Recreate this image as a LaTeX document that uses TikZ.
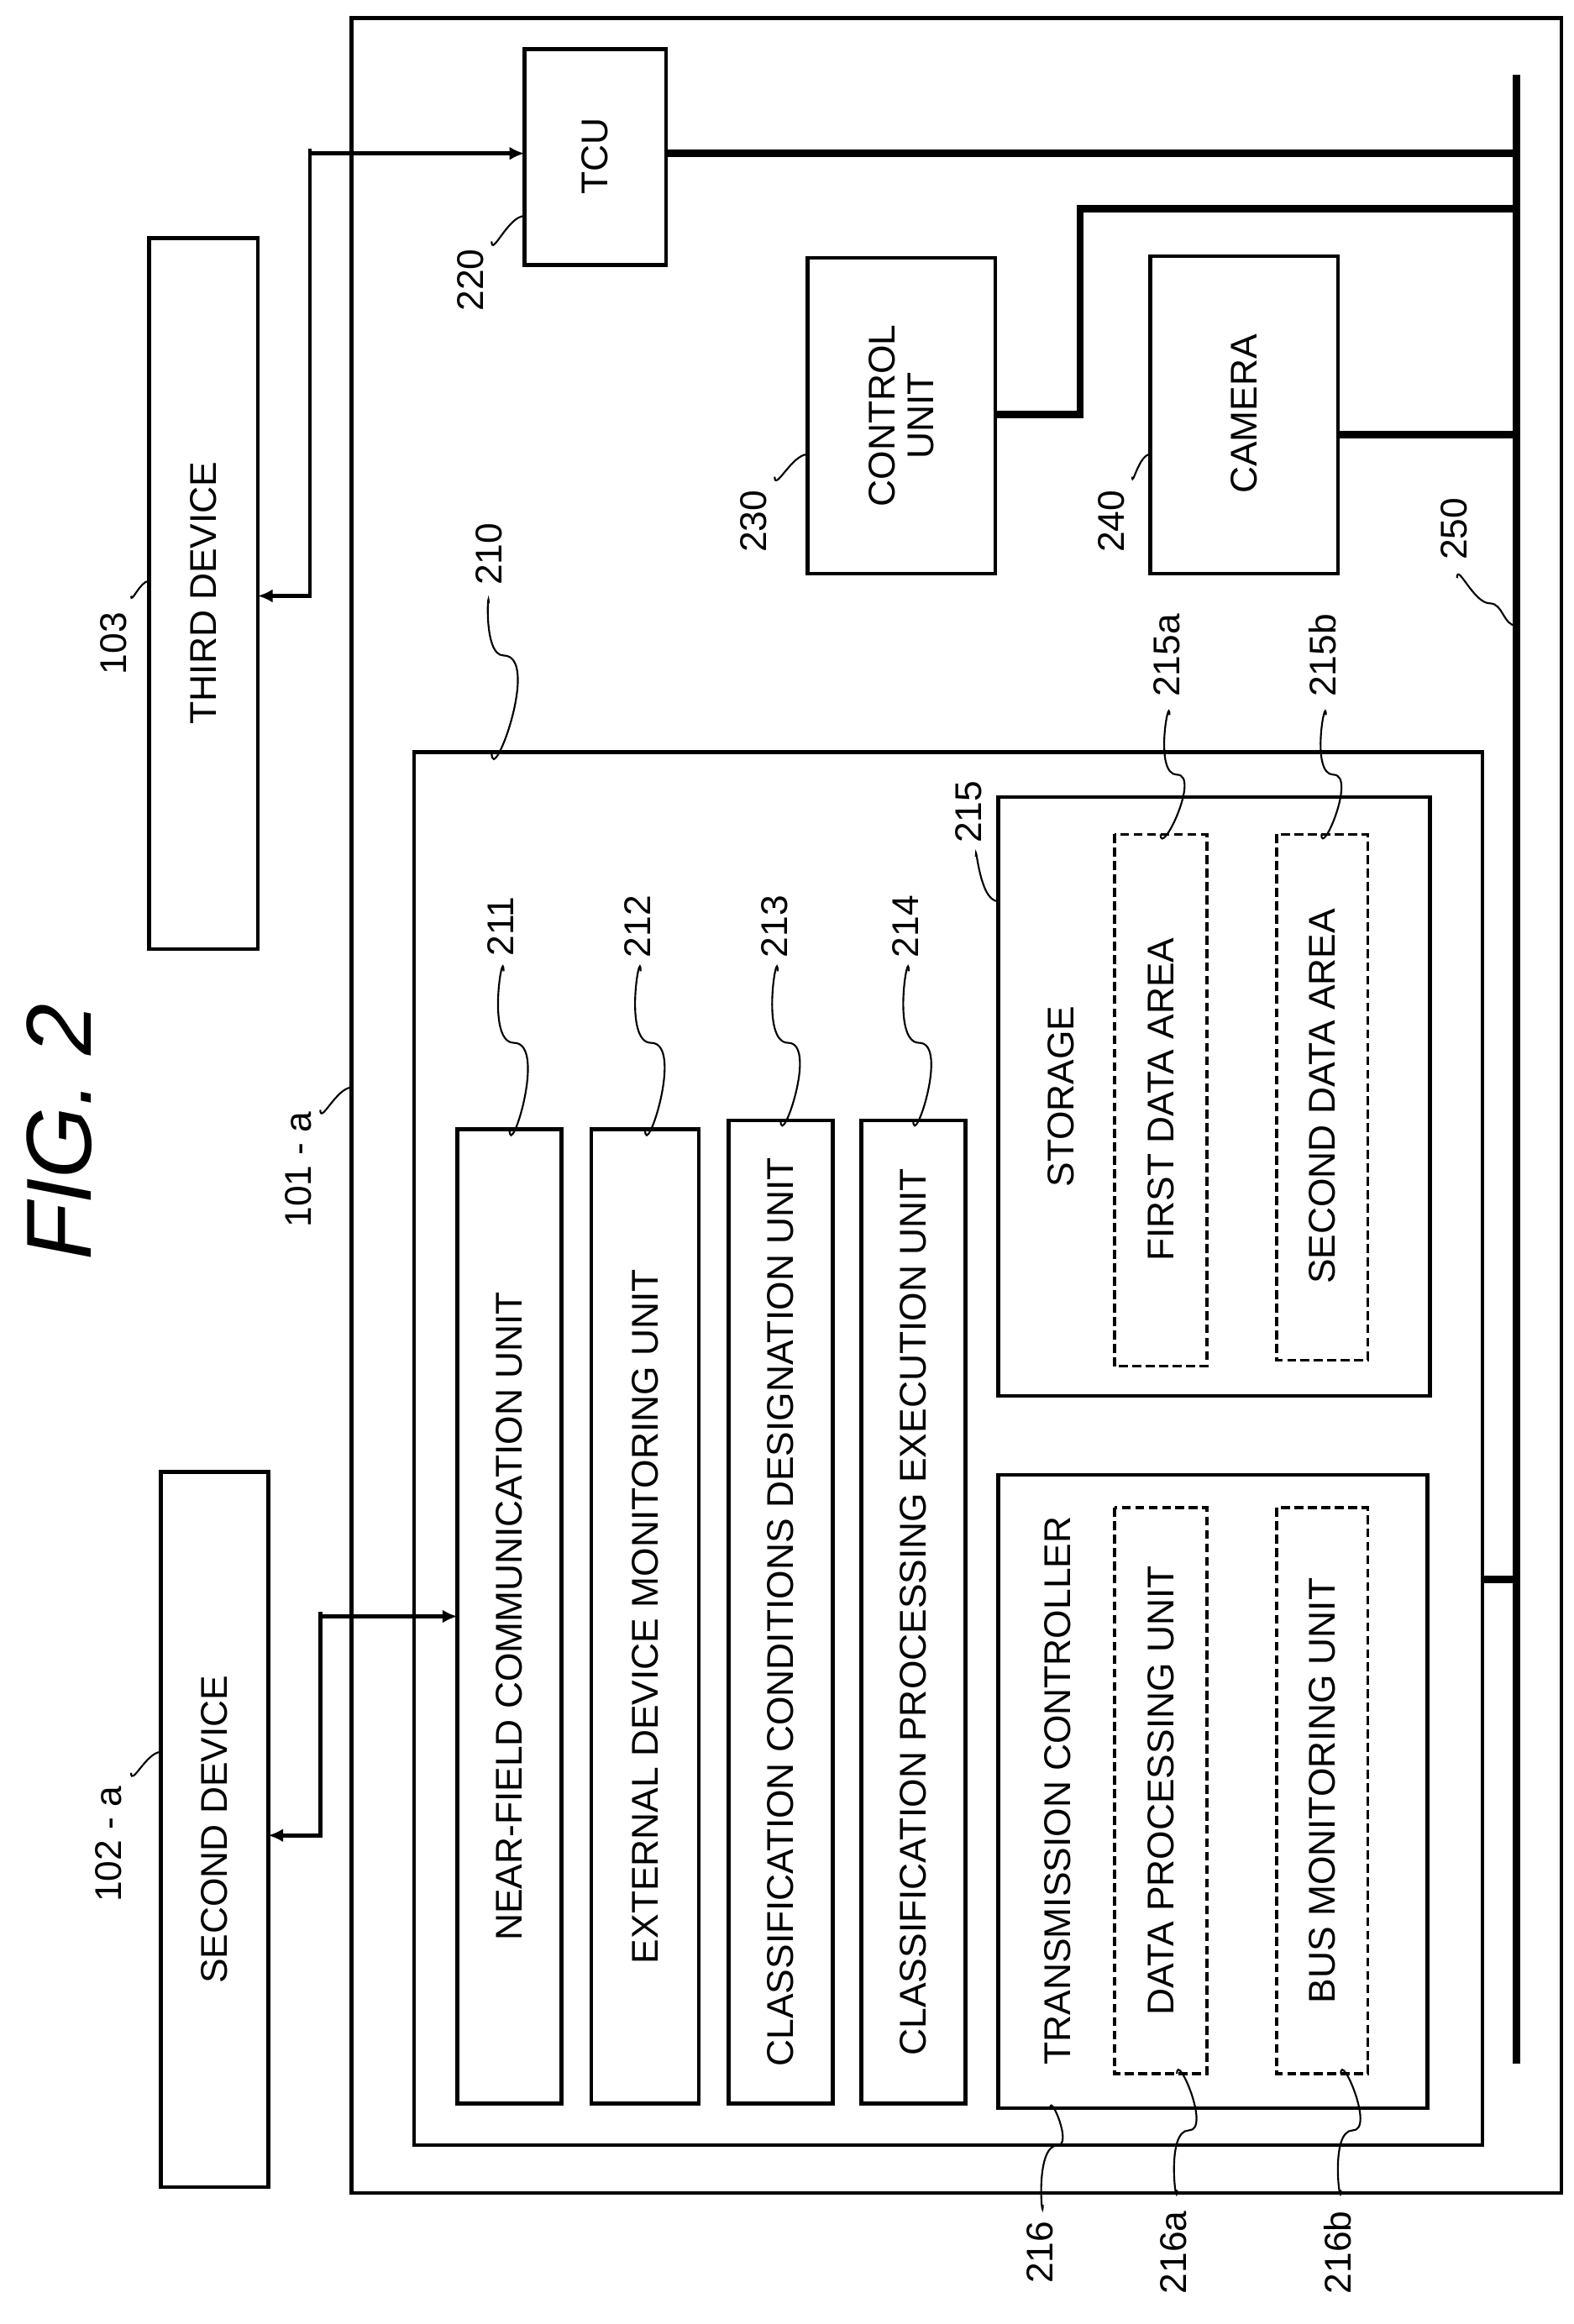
\documentclass[tikz,border=0pt]{standalone}
\usepackage{fontspec}
\setmainfont{Liberation Sans}
\usetikzlibrary{arrows.meta}
\begin{document}
\begin{tikzpicture}[x=1pt,y=-1pt,
  box/.style={draw,line width=2.6pt},
  dbox/.style={draw,line width=2pt,dash pattern=on 6pt off 3pt},
  txt/.style={rotate=90,font=\fontsize{25}{29}\selectfont,align=center},
  lab/.style={rotate=90,font=\fontsize{25}{29}\selectfont},
  ld/.style={line width=1.2pt},
  bus/.style={line width=5pt},
  arr/.style={line width=2.6pt,-{Latex[length=10pt,width=9pt]}}]
\useasboundingbox (0,0) rectangle (1056,1560);
% title
\node[rotate=90,font=\fontsize{62}{70}\selectfont\itshape] (fig) at (40,760) {FIG. 2};
% outer
\draw[box] (236,12) rectangle (1048,1472);
\draw[box] (278,505) rectangle (995,1440);
% devices
\draw[box] (100,160) rectangle (173,637);
\node[txt] (third) at (136.5,398) {THIRD DEVICE};
\draw[box] (108,988) rectangle (180,1468);
\node[txt] (second) at (144,1228) {SECOND DEVICE};
% TCU, control, camera
\draw[box] (352,33) rectangle (447,178); \node[txt] (tcu) at (399.5,105) {TCU};
\draw[box] (542,173) rectangle (668,385); \node[txt,font=\fontsize{25}{26}\selectfont] (ctl) at (605,279) {CONTROL\\UNIT};
\draw[box] (772,172) rectangle (898,385); \node[txt] (cam) at (835,278) {CAMERA};
% units
\draw[box] (307,758) rectangle (377,1412); \node[txt] (u211) at (342,1085) {NEAR-FIELD COMMUNICATION UNIT};
\draw[box] (397,758) rectangle (469,1412); \node[txt] (u212) at (433,1085) {EXTERNAL DEVICE MONITORING UNIT};
\draw[box] (489,752) rectangle (559,1412); \node[txt] (u213) at (524,1082) {CLASSIFICATION CONDITIONS DESIGNATION UNIT};
\draw[box] (578,752) rectangle (648,1412); \node[txt] (u214) at (613,1082) {CLASSIFICATION PROCESSING EXECUTION UNIT};
% storage
\draw[box] (670,535) rectangle (960,937); \node[txt] (st) at (712,736) {STORAGE};
\draw[dbox] (748,560) rectangle (810,917); \node[txt] (fda) at (779,738) {FIRST DATA AREA};
\draw[dbox] (857,560) rectangle (918,913); \node[txt] (sda) at (887.5,736) {SECOND DATA AREA};
% transmission controller
\draw[box] (670,990) rectangle (958,1415); \node[txt] (tc) at (710,1202) {TRANSMISSION CONTROLLER};
\draw[dbox] (748,1012) rectangle (810,1392); \node[txt] (dpu) at (779,1202) {DATA PROCESSING UNIT};
\draw[dbox] (857,1012) rectangle (918,1392); \node[txt] (bmu) at (887.5,1202) {BUS MONITORING UNIT};
% bus
\draw[bus] (1018,50) -- (1018,1385);
\draw[bus] (447,103) -- (1018,103);
\draw[bus] (668,278) -- (725,278) -- (725,140) -- (1018,140);
\draw[bus] (898,292) -- (1018,292);
\draw[bus] (995,1060) -- (1018,1060);
% arrows
\draw[arr] (208,103) -- (352,103);
\draw[arr] (208,100) -- (208,400) -- (173,400);
\draw[arr] (215,1085) -- (307,1085);
\draw[arr] (215,1082) -- (215,1232) -- (180,1232);
% labels
\node[lab] (l103) at (76,432) {103};
\draw[ld] (88,400) to[out=-90,in=180] (100,390);
\node[lab] (l102) at (73,1238) {102 - a};
\draw[ld] (88,1190) to[out=-90,in=180] (108,1176);
\node[lab] (l220) at (316,188) {220};
\draw[ld] (330,162) to[out=-90,in=180] (352,145);
\node[lab] (l230) at (506,350) {230};
\draw[ld] (520,320) to[out=-90,in=180] (542,305);
\node[lab] (l240) at (746,350) {240};
\draw[ld] (760,320) to[out=-90,in=180] (772,305);
\node[lab] (l210) at (328,372) {210};
\draw[ld] (328,405) to[out=90,in=180] (338,440) to[out=0,in=-90] (330,505);
\node[lab] (l250) at (976,355) {250};
\draw[ld] (978,388) to[out=90,in=180] (1000,405) to[out=0,in=180] (1018,420);
\node[lab] (l215a) at (783,440) {215a};
\draw[ld] (785,480) to[out=90,in=180] (790,520) to[out=0,in=-90] (779,560);
\node[lab] (l215b) at (888,440) {215b};
\draw[ld] (890,480) to[out=90,in=180] (895,520) to[out=0,in=-90] (887,560);
\node[lab] (l211) at (336,622) {211};
\draw[ld] (338,652) to[out=90,in=180] (345,700) to[out=0,in=-90] (342,758);
\node[lab] (l212) at (428,622) {212};
\draw[ld] (430,652) to[out=90,in=180] (437,700) to[out=0,in=-90] (433,758);
\node[lab] (l213) at (520,622) {213};
\draw[ld] (522,652) to[out=90,in=180] (529,700) to[out=0,in=-90] (524,752);
\node[lab] (l214) at (608,622) {214};
\draw[ld] (610,652) to[out=90,in=180] (617,700) to[out=0,in=-90] (613,752);
\node[lab] (l215) at (650,545) {215};
\draw[ld] (655,575) to[out=90,in=180] (670,605);
\node[lab] (l101) at (200,785) {101 - a};
\draw[ld] (215,745) to[out=-90,in=180] (236,730);
\node[lab] (l216) at (698,1512) {216};
\draw[ld] (700,1480) to[out=-90,in=180] (710,1440) to[out=0,in=90] (705,1415);
\node[lab] (l216a) at (788,1512) {216a};
\draw[ld] (790,1470) to[out=-90,in=180] (798,1430) to[out=0,in=90] (790,1392);
\node[lab] (l216b) at (898,1512) {216b};
\draw[ld] (900,1470) to[out=-90,in=180] (908,1430) to[out=0,in=90] (900,1392);
\end{tikzpicture}
\end{document}
